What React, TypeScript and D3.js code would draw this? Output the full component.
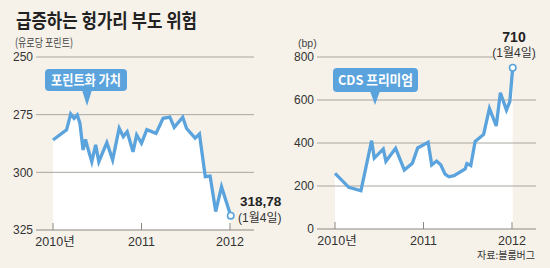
import React from "react";
import * as d3 from "d3";

const leftDates = ["2010-01-01","2010-02-26","2010-03-15","2010-03-29","2010-04-11","2010-04-22","2010-05-05","2010-05-15","2010-05-23","2010-06-10","2010-06-26","2010-07-09","2010-08-11","2010-09-04","2010-10-01","2010-10-18","2010-11-03","2010-11-27","2010-12-12","2011-01-01","2011-01-23","2011-03-02","2011-03-31","2011-04-28","2011-05-16","2011-06-20","2011-07-06","2011-08-10","2011-08-28","2011-09-21","2011-10-11","2011-11-03","2011-11-27","2012-01-04"];
const leftValues = [286,281.6,274.7,276.6,275.1,278.7,290.3,285.7,288.9,295.4,288.1,295.4,287.1,294.6,280.9,284.5,282.4,291.1,283.8,287.4,281.5,283.1,276.6,276.1,280.5,276.1,281,285.2,283.4,301.9,301.6,317,306.2,318.78];

const rightDates = ["2010-01-01","2010-02-27","2010-04-18","2010-06-01","2010-06-12","2010-07-19","2010-07-30","2010-09-08","2010-10-14","2010-11-16","2010-12-08","2011-01-20","2011-02-04","2011-02-24","2011-03-13","2011-03-31","2011-04-16","2011-05-07","2011-06-22","2011-06-29","2011-07-15","2011-08-02","2011-09-06","2011-09-30","2011-10-28","2011-11-14","2011-12-09","2011-12-23","2012-01-04"];
const rightValues = [259,194,178,411,330,372,315,375,274,306,377,403,298,316,299,255,243,248,280,304,295,407,440,561,479,634,553,592,750];

const leftTicks = [250, 275, 300, 325];
const rightTicks = [0, 200, 400, 600, 800];
const yearTicks = ["2010-01-01", "2011-01-01", "2012-01-01"];
const yearLabels = ["2010년", "2011", "2012"];

const BG = "#f6f2ea";
const BLUE = "#5aa3dd";
const GRID = "#a9a6a0";
const NUM = "'Liberation Sans Narrow', 'Liberation Sans', 'Noto Sans CJK KR', sans-serif";
const KR = "'Noto Sans CJK KR', sans-serif";

type PanelProps = {
  dates: string[];
  values: number[];
  ticks: number[];
  yDomain: [number, number];
  xRange: [number, number];
  gridX: [number, number];
  yRange: [number, number];
  baseValue: number;
  label: string;
  labelBox: { x: number; y: number; w: number; h: number; tip: number; tipY: number; tw: number };
};

function Panel(p: PanelProps) {
  const parse = d3.timeParse("%Y-%m-%d");
  const x = d3.scaleTime().domain([parse("2010-01-01")!, parse("2012-01-01")!]).range(p.xRange);
  const y = d3.scaleLinear().domain(p.yDomain).range(p.yRange);
  const pts = p.dates.map((d, i) => ({ d: parse(d)!, v: p.values[i] }));
  const line = d3.line<{ d: Date; v: number }>().x((q) => x(q.d)).y((q) => y(q.v));
  const area = d3.area<{ d: Date; v: number }>().x((q) => x(q.d)).y0(y(p.baseValue)).y1((q) => y(q.v));
  const last = pts[pts.length - 1];
  const base = y(p.baseValue);
  const lb = p.labelBox;
  return (
    <g>
      <path d={area(pts)!} fill="#ffffff" />
      {p.ticks.map((t) => (
        <g key={t}>
          <line x1={p.gridX[0]} x2={p.gridX[1]} y1={y(t)} y2={y(t)} stroke={t === p.baseValue ? "#8a8782" : GRID} strokeWidth={1} />
          <text x={p.gridX[0] - 3} y={y(t)} dy="0.35em" textAnchor="end" fontFamily={NUM} fontSize={12} fill="#333">{t}</text>
        </g>
      ))}
      {yearTicks.map((t, i) => (
        <g key={t}>
          <line x1={x(parse(t)!)} x2={x(parse(t)!)} y1={base - 7} y2={base} stroke="#8a8782" />
          <text x={x(parse(t)!) + (i === 0 ? 2 : 0)} y={base + 16} textAnchor="middle" fontFamily={NUM} fontSize={12.5} fill="#333">{yearLabels[i]}</text>
        </g>
      ))}
      <path d={line(pts)!} fill="none" stroke={BLUE} strokeWidth={3.3} strokeLinejoin="miter" />
      <circle cx={x(last.d)} cy={y(last.v)} r={3.2} fill="#fff" stroke={BLUE} strokeWidth={1.6} />
      <rect x={lb.x} y={lb.y} width={lb.w} height={lb.h} rx={4} fill={BLUE} />
      <path d={`M${lb.tip - 5},${lb.y + lb.h - 1} L${lb.tip + 5},${lb.y + lb.h - 1} L${lb.tip},${lb.tipY} Z`} fill={BLUE} />
      <text x={lb.x + lb.w / 2} y={lb.y + lb.h / 2} dy="0.36em" textAnchor="middle" fontFamily={KR} fontWeight={700} fontSize={13.5} fill="#fff" textLength={lb.tw} lengthAdjust="spacingAndGlyphs">{p.label}</text>
    </g>
  );
}

export default function App() {
  return (
    <svg width={550} height={268} style={{ position: "absolute", left: 0, top: 0, display: "block" }}>
      <rect width={550} height={268} fill={BG} />
      <text x={16} y={27.5} fontFamily={KR} fontWeight={700} fontSize={19.5} fill="#222" textLength={181} lengthAdjust="spacingAndGlyphs">급증하는 헝가리 부도 위험</text>
      <text x={15} y={47} fontFamily={KR} fontSize={11.5} fill="#444" textLength={58} lengthAdjust="spacingAndGlyphs">(유로당 포린트)</text>
      <Panel
        dates={leftDates}
        values={leftValues}
        ticks={leftTicks}
        yDomain={[250, 325]}
        yRange={[57, 230]}
        xRange={[53, 230]}
        gridX={[36, 254]}
        baseValue={325}
        label="포린트화 가치"
        labelBox={{ x: 45, y: 69, w: 82, h: 22, tip: 87, tipY: 106, tw: 70 }}
      />
      <text x={240} y={206} fontFamily={NUM} fontWeight={700} fontSize={13.5} fill="#222">318,78</text>
      <text x={238} y={222} fontFamily={NUM} fontSize={12} fill="#333">(1월4일)</text>

      <text x={298} y={47} fontFamily={NUM} fontSize={10.5} fill="#444">(bp)</text>
      <Panel
        dates={rightDates}
        values={rightValues}
        ticks={rightTicks}
        yDomain={[0, 800]}
        yRange={[229, 57]}
        xRange={[335, 512]}
        gridX={[317, 536]}
        baseValue={0}
        label="CDS 프리미엄"
        labelBox={{ x: 333, y: 68, w: 85, h: 24, tip: 375, tipY: 105, tw: 75 }}
      />
      <rect x={493} y={46} width={42} height={14} fill={BG} />
      <text x={514} y={42} textAnchor="middle" fontFamily={NUM} fontWeight={700} fontSize={14} fill="#222">710</text>
      <text x={514} y={57} textAnchor="middle" fontFamily={NUM} fontSize={12} fill="#333">(1월4일)</text>
      <text x={535} y={259} textAnchor="end" fontFamily={KR} fontSize={10} fill="#333">자료:블룸버그</text>
    </svg>
  );
}
